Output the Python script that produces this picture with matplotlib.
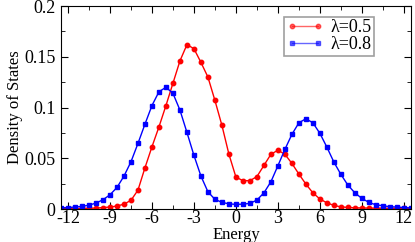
import numpy as np
import matplotlib
matplotlib.use("Agg")
import matplotlib.pyplot as plt
from matplotlib.ticker import MultipleLocator

plt.rcParams["font.family"] = ["Liberation Serif", "DejaVu Serif"]
plt.rcParams["axes.unicode_minus"] = False

energy = np.arange(-12.5, 12.51, 0.5)

# lambda = 0.5 (red circles)
dos_05 = [0.0003, 0.0004, 0.0005, 0.0006, 0.0008, 0.0010, 0.0015, 0.0020, 0.0030,
          0.0049, 0.0086, 0.0187, 0.0407, 0.0614, 0.0810, 0.1020, 0.1240, 0.1460,
          0.1620, 0.1580, 0.1445, 0.1300, 0.1070, 0.0824, 0.0540, 0.0315, 0.0280,
          0.0280, 0.0320, 0.0430, 0.0540, 0.0580, 0.0540, 0.0450, 0.0345, 0.0246,
          0.0160, 0.0099, 0.0062, 0.0036, 0.0022, 0.0016, 0.0013, 0.0011, 0.0010,
          0.0009, 0.0008, 0.0007, 0.0006, 0.0006, 0.0005]

# lambda = 0.8 (blue squares)
dos_08 = [0.0012, 0.0015, 0.0020, 0.0026, 0.0039, 0.0059, 0.0092, 0.0141, 0.0213,
          0.0325, 0.0466, 0.0647, 0.0837, 0.1020, 0.1156, 0.1200, 0.1140, 0.0975,
          0.0755, 0.0529, 0.0325, 0.0170, 0.0096, 0.0066, 0.0052, 0.0046, 0.0049,
          0.0056, 0.0089, 0.0160, 0.0269, 0.0427, 0.0588, 0.0736, 0.0850, 0.0890,
          0.0850, 0.0746, 0.0610, 0.0463, 0.0342, 0.0236, 0.0160, 0.0105, 0.0066,
          0.0042, 0.0033, 0.0023, 0.0020, 0.0015, 0.0012]

labels = ["λ=0.5", "λ=0.8"]

fig = plt.figure(figsize=(4.15, 2.42), dpi=100)
ax = fig.add_axes([0.147, 0.136, 0.843, 0.839])

ax.plot(energy, dos_05, color="#ff0000", marker="o", markersize=3.2, lw=1.0, label=labels[0])
ax.plot(energy, dos_08, color="#0000ff", marker="s", markersize=3.0, lw=1.0, label=labels[1])

ax.set_xlim(-12.5, 12.5)
ax.set_ylim(0, 0.2)
ax.xaxis.set_major_locator(MultipleLocator(3))
ax.xaxis.set_minor_locator(MultipleLocator(1.5))
ax.yaxis.set_minor_locator(MultipleLocator(0.025))
ax.set_yticks([0, 0.05, 0.1, 0.15, 0.2])
ax.set_yticklabels(["0", "0.05", "0.1", "0.15", "0.2"])
ax.tick_params(which="both", direction="in", top=True, right=True, labelsize=13)
ax.tick_params(axis="x", pad=1)
ax.tick_params(axis="y", pad=4)
ax.tick_params(which="major", length=5)
ax.tick_params(which="minor", length=3)

ax.set_xlabel("Energy", fontsize=12, labelpad=0)
ax.set_ylabel("Density of States", fontsize=12, labelpad=1)

leg = ax.legend(loc="upper right", bbox_to_anchor=(0.905, 0.965), numpoints=2, fontsize=13,
                fancybox=False, edgecolor="#888888", handlelength=2.0,
                borderpad=0.15, labelspacing=0.0, handletextpad=0.4, borderaxespad=0.2)
leg.get_frame().set_linewidth(1.2)
for line in leg.get_lines():
    line.set_alpha(0.6)

fig.savefig("out.png", dpi=100)
